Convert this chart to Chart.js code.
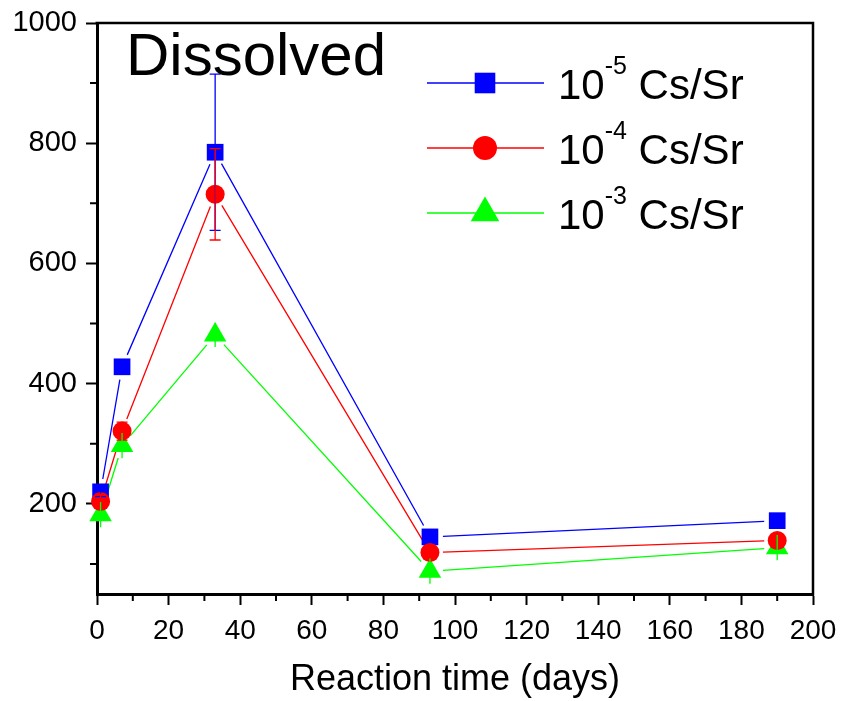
<!DOCTYPE html>
<html>
<head>
<meta charset="utf-8">
<script src="https://cdn.jsdelivr.net/npm/chart.js@4"></script>
<style>
  html, body { margin: 0; padding: 0; background: #fff; }
</style>
</head>
<body>
<canvas id="chart" width="841" height="701"></canvas>
<script>
// reaction time (days) and dissolved values per Cs/Sr ratio
const days = [1, 7, 33, 93, 190];
const cs5 = [220, 428, 785, 145, 172];
const cs4 = [204, 321, 715, 119, 139];
const cs3 = [182, 297, 481, 88, 127];
const err5 = [8, 6, 130, 5, 5];
const err4 = [12, 15, 76, 5, 8];
const err3 = [21, 21, 20, 21, 21];
const ratioExp = ["-5", "-4", "-3"];
const xTicks = [0, 20, 40, 60, 80, 100, 120, 140, 160, 180, 200];
const yTicks = [200, 400, 600, 800, 1000];

const FONT = "'Liberation Sans', Arial, sans-serif";
const LINE_GAP = 13;

function points(ys) {
  return days.map((d, i) => ({ x: d, y: ys[i] }));
}

// connecting lines that stop short of each marker
const gappedLines = {
  id: "gappedLines",
  beforeDatasetsDraw(chart) {
    const ctx = chart.ctx;
    ctx.save();
    chart.data.datasets.forEach((ds, i) => {
      const pts = chart.getDatasetMeta(i).data;
      ctx.strokeStyle = ds.borderColor;
      ctx.lineWidth = 1.3;
      ctx.beginPath();
      for (let j = 0; j < pts.length - 1; j++) {
        const a = pts[j], b = pts[j + 1];
        const dx = b.x - a.x, dy = b.y - a.y;
        const len = Math.hypot(dx, dy);
        if (len <= 2 * LINE_GAP) continue;
        const ux = dx / len, uy = dy / len;
        ctx.moveTo(a.x + ux * LINE_GAP, a.y + uy * LINE_GAP);
        ctx.lineTo(b.x - ux * LINE_GAP, b.y - uy * LINE_GAP);
      }
      ctx.stroke();
    });
    ctx.restore();
  }
};

// error bars, drawn on top of the markers
const errorBars = {
  id: "errorBars",
  afterDatasetsDraw(chart) {
    const ctx = chart.ctx;
    const yScale = chart.scales.y;
    chart.data.datasets.forEach((ds, i) => {
      const meta = chart.getDatasetMeta(i);
      ctx.save();
      ctx.strokeStyle = ds.borderColor;
      ctx.lineWidth = 1.3;
      meta.data.forEach((pt, j) => {
        const v = ds.data[j].y;
        const e = ds.errors[j];
        const top = yScale.getPixelForValue(v + e);
        const bot = yScale.getPixelForValue(v - e);
        ctx.beginPath();
        ctx.moveTo(pt.x, top);
        ctx.lineTo(pt.x, bot);
        if (ds.capWidth) {
          ctx.moveTo(pt.x - ds.capWidth / 2, top);
          ctx.lineTo(pt.x + ds.capWidth / 2, top);
          ctx.moveTo(pt.x - ds.capWidth / 2, bot);
          ctx.lineTo(pt.x + ds.capWidth / 2, bot);
        }
        ctx.stroke();
      });
      ctx.restore();
    });
  }
};

// frame, minor ticks, inner label and legend
const decorations = {
  id: "decorations",
  afterDraw(chart) {
    const ctx = chart.ctx;
    const { left, right, top, bottom } = chart.chartArea;
    const xs = chart.scales.x;
    const ys = chart.scales.y;
    ctx.save();

    // top and right frame lines
    ctx.strokeStyle = "#000";
    ctx.lineWidth = 2.5;
    ctx.beginPath();
    ctx.moveTo(left - 1.5, top);
    ctx.lineTo(right, top);
    ctx.lineTo(right, bottom + 1.5);
    ctx.stroke();

    // minor ticks halfway between major ones
    ctx.lineWidth = 2;
    ctx.beginPath();
    for (let i = 0; i < xTicks.length - 1; i++) {
      const px = xs.getPixelForValue((xTicks[i] + xTicks[i + 1]) / 2);
      ctx.moveTo(px, bottom);
      ctx.lineTo(px, bottom + 7);
    }
    const yMinor = [yTicks[0] - 100].concat(yTicks.slice(0, -1).map((v, i) => (v + yTicks[i + 1]) / 2));
    yMinor.forEach(v => {
      const py = ys.getPixelForValue(v);
      ctx.moveTo(left, py);
      ctx.lineTo(left - 7, py);
    });
    ctx.stroke();

    // label inside the plot
    ctx.fillStyle = "#000";
    ctx.font = "60px " + FONT;
    ctx.textBaseline = "alphabetic";
    ctx.textAlign = "left";
    ctx.fillText("Dissolved", 126, 75);

    // legend with superscript exponents
    const rows = [83, 148, 213];
    chart.data.datasets.forEach((ds, i) => {
      const y = rows[i];
      ctx.strokeStyle = ds.borderColor;
      ctx.fillStyle = ds.borderColor;
      ctx.lineWidth = 1.3;
      ctx.beginPath();
      ctx.moveTo(427, y);
      ctx.lineTo(544, y);
      ctx.stroke();
      ctx.beginPath();
      const cx = 485;
      if (ds.pointStyle === "rect") {
        ctx.rect(cx - 10.3, y - 10.3, 20.6, 20.6);
      } else if (ds.pointStyle === "circle") {
        ctx.arc(cx, y, 12, 0, Math.PI * 2);
      } else {
        const r = 16.5;
        ctx.moveTo(cx, y - r);
        ctx.lineTo(cx + r * Math.sin(2 * Math.PI / 3), y + r / 2);
        ctx.lineTo(cx - r * Math.sin(2 * Math.PI / 3), y + r / 2);
        ctx.closePath();
      }
      ctx.fill();

      ctx.fillStyle = "#000";
      ctx.font = "42px " + FONT;
      let tx = 558;
      const base = y + 15.5;
      ctx.fillText("10", tx, base);
      tx += ctx.measureText("10").width;
      ctx.font = "25px " + FONT;
      ctx.fillText(ratioExp[i], tx, base - 25);
      tx += ctx.measureText(ratioExp[i]).width;
      ctx.font = "42px " + FONT;
      ctx.fillText(" Cs/Sr", tx, base);
    });
    ctx.restore();
  }
};

new Chart(document.getElementById("chart"), {
  type: "scatter",
  data: {
    datasets: [
      {
        label: "10-5 Cs/Sr",
        data: points(cs5),
        errors: err5,
        capWidth: 11,
        borderColor: "#0000ff",
        backgroundColor: "#0000ff",
        pointStyle: "rect",
        pointRadius: 11.8,
        order: 3,
      },
      {
        label: "10-4 Cs/Sr",
        data: points(cs4),
        errors: err4,
        capWidth: 11,
        borderColor: "#ff0000",
        backgroundColor: "#ff0000",
        pointStyle: "circle",
        pointRadius: 9.5,
        order: 1,
      },
      {
        label: "10-3 Cs/Sr",
        data: points(cs3),
        errors: err3,
        capWidth: 0,
        borderColor: "#00ff00",
        backgroundColor: "#00ff00",
        pointStyle: "triangle",
        pointRadius: 13,
        order: 2,
      },
    ].map(ds => Object.assign(ds, {
      showLine: false,
      pointBorderWidth: 0,
      pointHoverRadius: ds.pointRadius,
      clip: false,
    })),
  },
  options: {
    responsive: false,
    animation: false,
    layout: { padding: { top: 23, right: 28, left: 0, bottom: 0 } },
    plugins: {
      legend: { display: false },
      tooltip: { enabled: false },
    },
    scales: {
      x: {
        type: "linear",
        min: 0,
        max: 200,
        afterBuildTicks: s => { s.ticks = xTicks.map(v => ({ value: v })); },
        afterFit: s => { s.height = 107; s.paddingLeft = 0; s.paddingRight = 0; },
        grid: { drawOnChartArea: false, tickLength: 11, tickWidth: 2, tickColor: "#000" },
        border: { display: true, width: 3, color: "#000" },
        ticks: {
          color: "#000", font: { family: FONT, size: 28 }, padding: 9,
          maxRotation: 0, autoSkip: false, callback: v => String(v),
        },
        title: {
          display: true,
          text: "Reaction time (days)",
          color: "#000",
          font: { family: FONT, size: 36, lineHeight: 1.05 },
          padding: { top: 0, bottom: 2 },
        },
      },
      y: {
        type: "linear",
        min: 50,
        max: 1000,
        afterBuildTicks: s => { s.ticks = yTicks.map(v => ({ value: v })); },
        afterFit: s => { s.width = 97; s.paddingTop = 0; s.paddingBottom = 0; },
        grid: { drawOnChartArea: false, tickLength: 11, tickWidth: 2, tickColor: "#000" },
        border: { display: true, width: 3, color: "#000" },
        ticks: { color: "#000", font: { family: FONT, size: 29 }, padding: 9, callback: v => String(v) },
      },
    },
  },
  plugins: [gappedLines, errorBars, decorations],
});
</script>
</body>
</html>
